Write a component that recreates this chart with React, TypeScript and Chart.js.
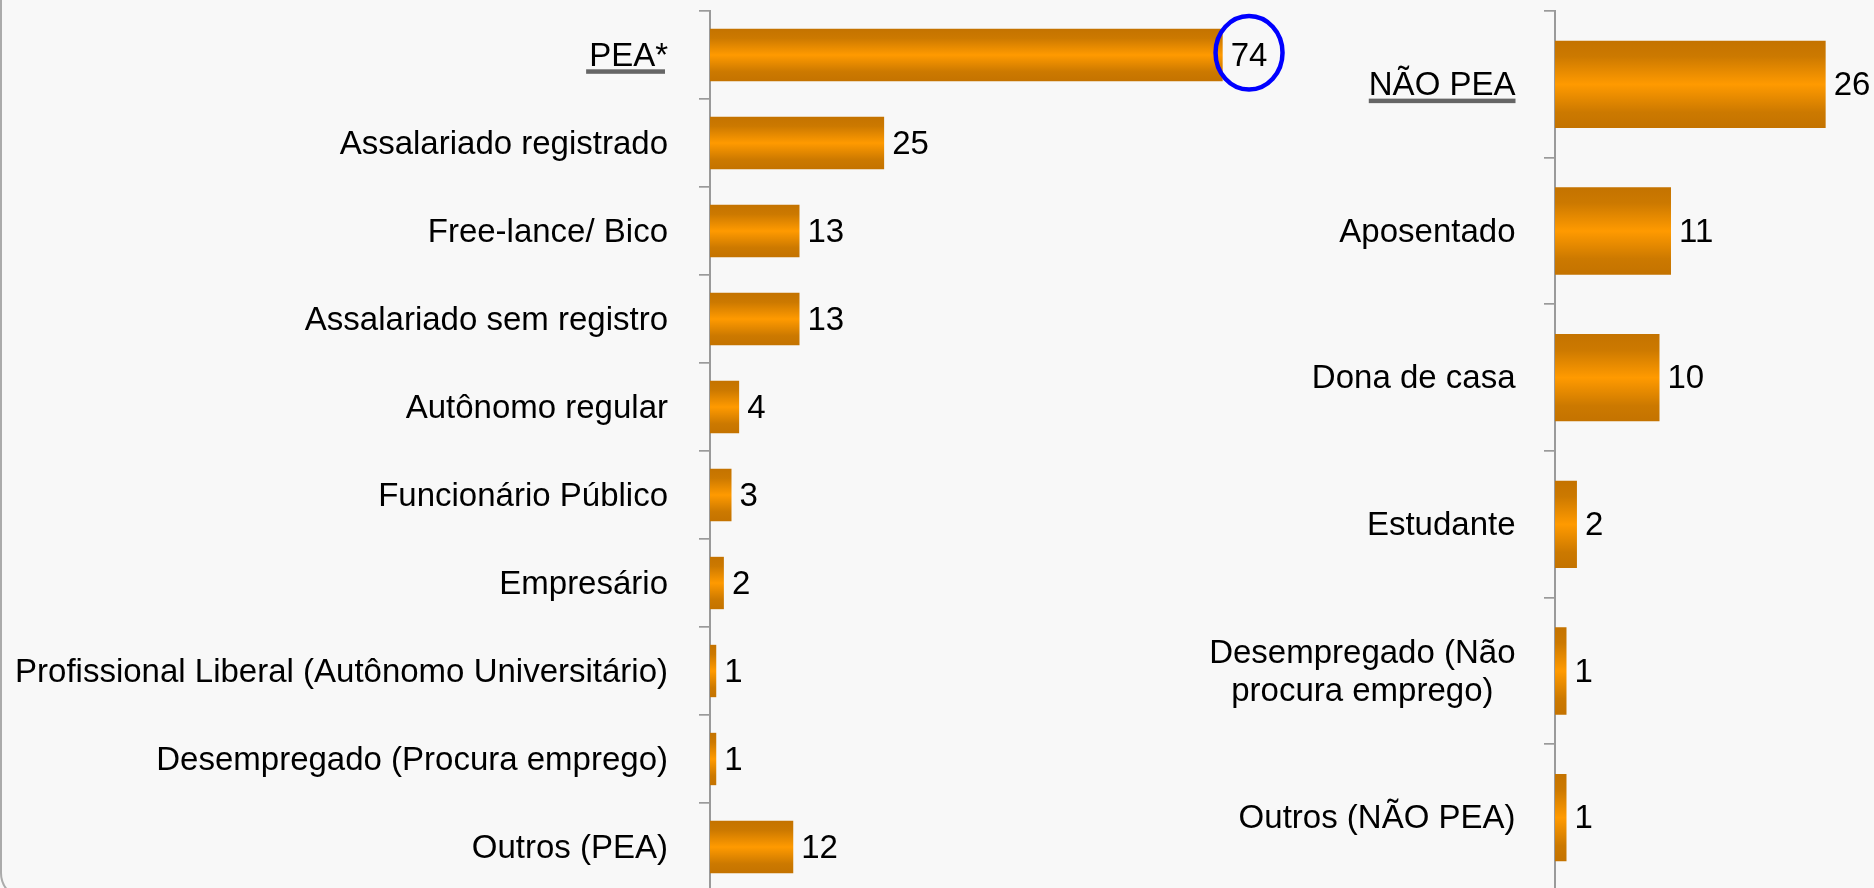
import React, { useEffect, useRef } from "react";
import { Chart, registerables } from "chart.js";

Chart.register(...registerables);

// ---------- data ----------
const LEFT_CATEGORIES = [
  "PEA*",
  "Assalariado registrado",
  "Free-lance/ Bico",
  "Assalariado sem registro",
  "Autônomo regular",
  "Funcionário Público",
  "Empresário",
  "Profissional Liberal (Autônomo Universitário)",
  "Desempregado (Procura emprego)",
  "Outros (PEA)",
];
const LEFT_VALUES = [73.9, 25.1, 12.9, 12.9, 4.2, 3.1, 2.0, 0.9, 0.9, 12.0];
const LEFT_VALUE_LABELS = ["74", "25", "13", "13", "4", "3", "2", "1", "1", "12"];
const LEFT_UNDERLINED = [0];
const LEFT_CIRCLED = [0];
const LEFT_MAX = 80;

const RIGHT_CATEGORIES = [
  "NÃO PEA",
  "Aposentado",
  "Dona de casa",
  "Estudante",
  "Desempregado (Não\nprocura emprego)",
  "Outros (NÃO PEA)",
];
const RIGHT_VALUES = [25.9, 11.1, 10.0, 2.1, 1.1, 1.1];
const RIGHT_VALUE_LABELS = ["26", "11", "10", "2", "1", "1"];
const RIGHT_UNDERLINED = [0];
const RIGHT_CIRCLED: number[] = [];
const RIGHT_MAX = 30;

// ---------- style ----------
const W = 1874;
const H = 900;
const FONT = '33px "Liberation Sans", Arial, Helvetica, sans-serif';
const BAR_PCT = 0.595;
const AXIS_COLOR = "#9a9a9a";

function makeGradientFill(ctx: any) {
  const chart = ctx.chart;
  const y = chart.scales && chart.scales.y;
  if (!y || ctx.type !== "data" || !isFinite(y.top) || y.bottom <= y.top) return "#f39200";
  const c = y.getPixelForValue(ctx.dataIndex);
  const band = (y.bottom - y.top) / chart.data.labels.length;
  const h = band * BAR_PCT;
  const g = chart.ctx.createLinearGradient(0, c - h / 2, 0, c + h / 2);
  g.addColorStop(0, "#c47300");
  g.addColorStop(0.18, "#cc7900");
  g.addColorStop(0.5, "#ff9a00");
  g.addColorStop(0.82, "#cc7900");
  g.addColorStop(1, "#c47300");
  return g;
}

function labelPlugin(
  valueLabels: string[],
  underlined: number[],
  circled: number[],
  labelRight: number,
  underlineShift: number
) {
  return {
    id: "customLabels",
    afterDraw(chart: any) {
      const ctx = chart.ctx;
      const y = chart.scales.y;
      const labels: string[] = chart.data.labels;
      const meta = chart.getDatasetMeta(0);
      ctx.save();
      ctx.font = FONT;
      ctx.fillStyle = "#000";
      ctx.textBaseline = "alphabetic";
      labels.forEach((lab, i) => {
        const c = y.getPixelForTick(i);
        const lines = lab.split("\n");
        if (lines.length === 1) {
          ctx.textAlign = "right";
          const base = c + 10.8;
          ctx.fillText(lab, labelRight, base);
          if (underlined.includes(i)) {
            const w = ctx.measureText(lab).width;
            ctx.fillStyle = "#666666";
            ctx.fillRect(labelRight - w + underlineShift, base + 3.5, w, 4.5);
            ctx.fillStyle = "#000";
          }
        } else {
          const lh = 38.5;
          const maxW = Math.max(...lines.map((l) => ctx.measureText(l).width));
          const cx = labelRight - maxW / 2;
          ctx.textAlign = "center";
          const first = c + 10.8 - (lh * (lines.length - 1)) / 2;
          lines.forEach((l, k) => ctx.fillText(l, cx, first + k * lh));
        }
      });
      // value labels
      ctx.textAlign = "left";
      meta.data.forEach((el: any, i: number) => {
        const c = y.getPixelForTick(i);
        const txt = valueLabels[i];
        const x = el.x + 8;
        ctx.fillStyle = "#000";
        ctx.fillText(txt, x, c + 10.5);
        if (circled.includes(i)) {
          const w = ctx.measureText(txt).width;
          ctx.beginPath();
          ctx.ellipse(x + w / 2, c - 2.3, 33.5, 36.7, 0, 0, Math.PI * 2);
          ctx.strokeStyle = "#0000ff";
          ctx.lineWidth = 4.5;
          ctx.stroke();
        }
      });
      ctx.restore();
    },
  };
}

function makeConfig(
  categories: string[],
  values: number[],
  valueLabels: string[],
  underlined: number[],
  circled: number[],
  max: number,
  axisX: number,
  plotWidth: number,
  labelGap: number,
  underlineShift: number
): any {
  return {
    type: "bar",
    data: {
      labels: categories,
      datasets: [
        {
          data: values,
          backgroundColor: makeGradientFill,
          borderWidth: 0,
          barPercentage: BAR_PCT,
          categoryPercentage: 1,
        },
      ],
    },
    options: {
      indexAxis: "y",
      responsive: false,
      animation: false,
      events: [],
      layout: { padding: { left: 0, top: 11, bottom: 9, right: W - axisX - plotWidth } },
      plugins: { legend: { display: false }, tooltip: { enabled: false }, title: { display: false } },
      scales: {
        x: { display: false, min: 0, max: max },
        y: {
          display: true,
          offset: true,
          grid: {
            offset: true,
            drawOnChartArea: false,
            drawTicks: true,
            tickLength: 11,
            color: AXIS_COLOR,
            lineWidth: 1.7,
          },
          border: { display: true, color: AXIS_COLOR, width: 2 },
          ticks: { display: false },
          afterFit(scale: any) {
            scale.width = axisX;
          },
        },
      },
    },
    plugins: [labelPlugin(valueLabels, underlined, circled, axisX - labelGap, underlineShift)],
  };
}

export default function App() {
  const leftRef = useRef<HTMLCanvasElement>(null);
  const rightRef = useRef<HTMLCanvasElement>(null);

  useEffect(() => {
    document.body.style.margin = "0";
    const left = new Chart(
      leftRef.current as HTMLCanvasElement,
      makeConfig(LEFT_CATEGORIES, LEFT_VALUES, LEFT_VALUE_LABELS, LEFT_UNDERLINED, LEFT_CIRCLED, LEFT_MAX, 710, 555, 42, -3)
    );
    const right = new Chart(
      rightRef.current as HTMLCanvasElement,
      makeConfig(RIGHT_CATEGORIES, RIGHT_VALUES, RIGHT_VALUE_LABELS, RIGHT_UNDERLINED, RIGHT_CIRCLED, RIGHT_MAX, 1555, 313.5, 39.5, 0)
    );
    return () => {
      left.destroy();
      right.destroy();
    };
  }, []);

  return (
    <div
      style={{
        position: "fixed",
        left: 0,
        top: 0,
        width: W,
        height: 888,
        overflow: "hidden",
        background: "#f8f8f8",
      }}
    >
      <div
        style={{
          position: "absolute",
          left: 0,
          top: -40,
          width: 1960,
          height: 940,
          boxSizing: "border-box",
          border: "2px solid #ababab",
          borderRadius: 27,
          background: "#f8f8f8",
        }}
      />
      <canvas ref={leftRef} width={W} height={H} style={{ position: "absolute", left: 0, top: 0 }} />
      <canvas ref={rightRef} width={W} height={H} style={{ position: "absolute", left: 0, top: 0 }} />
    </div>
  );
}
